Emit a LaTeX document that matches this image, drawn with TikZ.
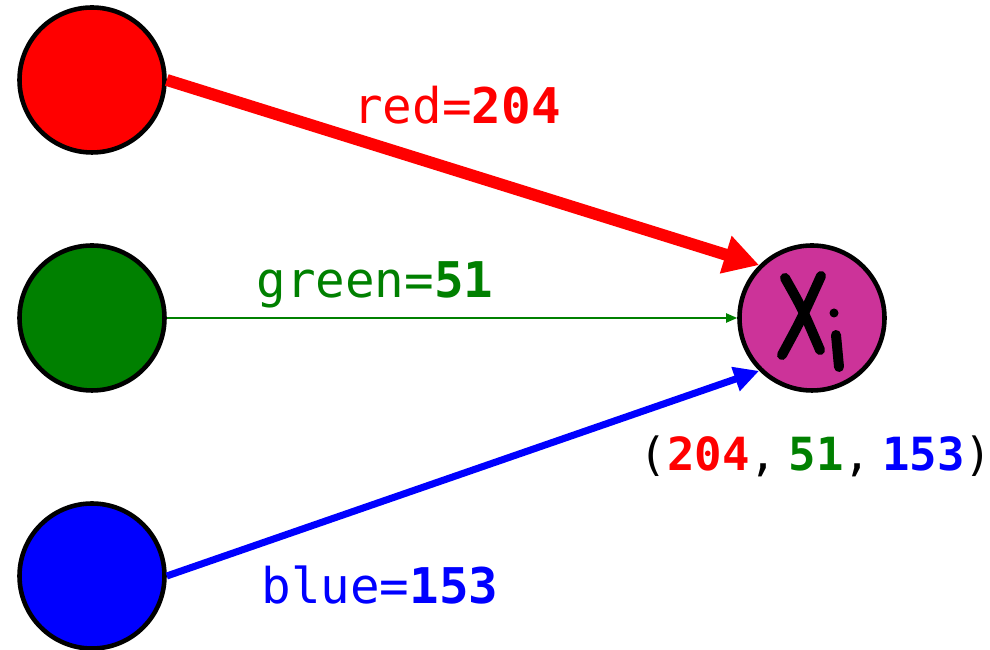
\documentclass[tikz,border=0pt]{standalone}
\usepackage{fontspec}
\setmonofont{DejaVu Sans Mono}
\usetikzlibrary{arrows.meta, positioning}
\definecolor{chred}{HTML}{FF0000}
\definecolor{chgreen}{HTML}{008000}
\definecolor{chblue}{HTML}{0000FF}
\definecolor{pixmix}{HTML}{CC3399}
\tikzset{
	cnode/.style={circle, draw=black, line width=2.6pt, minimum size=2.9cm, inner sep=0pt},
	clabel/.style={font=\ttfamily\fontsize{28}{32}\selectfont, inner sep=0pt},
	pen/.style={line width=0.2cm, line cap=round, draw=black}
}
\newcommand{\sep}{,\hspace{0.22cm}}

\begin{document}
\begin{tikzpicture}
	\useasboundingbox (0,0) rectangle (19.8,13);
	\node[cnode, fill=chred] (red) at (1.84,11.4) {};
	\node[cnode, fill=chgreen] (green) at (1.84,6.64) {};
	\node[cnode, fill=chblue] (blue) at (1.84,1.48) {};
	\node[cnode, fill=pixmix] (xi) at (16.24,6.64) {};
	% hand-drawn X_i
	\draw[pen] ([shift={(-0.54,0.8)}]xi.center) .. controls ([shift={(-0.2,0.2)}]xi.center) .. ([shift={(0.16,-0.64)}]xi.center);
	\draw[pen] ([shift={(0.18,0.84)}]xi.center) .. controls ([shift={(-0.2,0)}]xi.center) .. ([shift={(-0.6,-0.74)}]xi.center);
	\fill ([shift={(0.44,0.1)}]xi.center) circle (0.09);
	\draw[pen] ([shift={(0.48,-0.34)}]xi.center) -- ([shift={(0.54,-0.98)}]xi.center);
	% connectors
	\draw[chred, line width=6.8pt, -{Triangle[length=0.7cm, width=0.74cm]}] (red.east) -- (xi.135);
	\draw[chgreen, line width=1.1pt, -{Triangle[length=0.22cm, width=0.18cm]}] (green.east) -- (xi.west);
	\draw[chblue, line width=4pt, -{Triangle[length=0.5cm, width=0.48cm]}] (blue.east) -- (xi.225);
	% labels
	\node[clabel, text=chred] (redlab) at (9.14,10.9) {red=\textbf{204}};
	\node[clabel, text=chgreen] (greenlab) at (7.5,7.3) {green=\textbf{51}};
	\node[clabel, text=chblue] (bluelab) at (7.6,1.3) {blue=\textbf{153}};
	\node[clabel, font=\ttfamily\fontsize{26}{30}\selectfont] (tuple) at (16.32,3.88)
		{(\textcolor{chred}{\textbf{204}}\sep\textcolor{chgreen}{\textbf{51}}\sep\textcolor{chblue}{\textbf{153}})};
\end{tikzpicture}
\end{document}
